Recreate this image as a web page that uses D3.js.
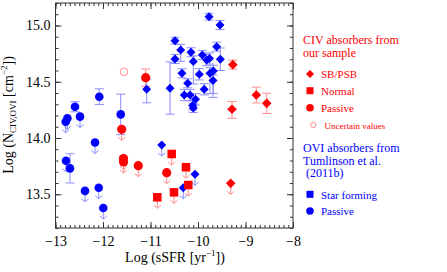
<!DOCTYPE html>
<html>
<head>
<meta charset="utf-8">
<script src="https://cdn.jsdelivr.net/npm/d3@7"></script>
<style>
  body { margin: 0; background: #fff; }
  svg text { font-family: "Liberation Serif", "Times New Roman", serif; }
</style>
</head>
<body>
<div class="chart"></div>
<script>
// OVI absorbers, Tumlinson et al. (2011b) - passive galaxies
var ovPassive = [
  {x: -12.785, y: 14.145, lim: true},
  {x: -12.75,  y: 14.175, lim: true},
  {x: -12.59,  y: 14.278, lo: 0.045, hi: 0.045},
  {x: -12.484, y: 14.19,  lim: true},
  {x: -12.078, y: 14.367, lo: 0.07, hi: 0.07},
  {x: -11.627, y: 14.21,  lo: 0.18, hi: 0.18},
  {x: -12.168, y: 13.96,  lim: true},
  {x: -12.779, y: 13.798, lim: true},
  {x: -12.695, y: 13.73,  lo: 0.13, hi: 0.13},
  {x: -12.379, y: 13.53,  lim: true},
  {x: -12.09,  y: 13.558, lim: true},
  {x: -11.994, y: 13.378, lim: true}
];

// OVI absorbers, Tumlinson et al. (2011b) - star forming galaxies
var ovStarForming = [
  {x: -9.768,  y: 15.078, lo: 0.03, hi: 0.03},
  {x: -9.537,  y: 15.004, lo: 0.04, hi: 0.04},
  {x: -10.484, y: 14.865, lo: 0.03, hi: 0.03},
  {x: -10.364, y: 14.782, lo: 0.1,  hi: 0.05},
  {x: -10.147, y: 14.762, lo: 0.04, hi: 0.04},
  {x: -10.484, y: 14.702, lo: 0.04, hi: 0.04},
  {x: -10.099, y: 14.68,  lo: 0.2,  hi: 0.05},
  {x: -9.909,  y: 14.738, lo: 0.04, hi: 0.04},
  {x: -9.817,  y: 14.693, lo: 0.05, hi: 0.05},
  {x: -9.758,  y: 14.707, lo: 0.05, hi: 0.05},
  {x: -9.606,  y: 14.812, lo: 0.04, hi: 0.04},
  {x: -9.53,   y: 14.7,   lo: 0.1,  hi: 0.1},
  {x: -10.337, y: 14.575, lo: 0.04, hi: 0.04},
  {x: -9.973,  y: 14.566, lo: 0.05, hi: 0.05},
  {x: -9.747,  y: 14.575, lo: 0.18, hi: 0.05},
  {x: -9.678,  y: 14.596, lo: 0.2,  hi: 0.05},
  {x: -10.217, y: 14.486, lo: 0.04, hi: 0.04},
  {x: -9.684,  y: 14.511, lo: 0.15, hi: 0.05},
  {x: -9.869,  y: 14.433, lo: 0.05, hi: 0.05},
  {x: -10.589, y: 14.442, lo: 0.23, hi: 0.234},
  {x: -11.08,  y: 14.433, lo: 0.12, hi: 0.09},
  {x: -10.288, y: 14.382, lo: 0.05, hi: 0.05},
  {x: -10.168, y: 14.382, lo: 0.05, hi: 0.05},
  {x: -10.053, y: 14.344, lo: 0.05, hi: 0.05},
  {x: -10.112, y: 14.289, lo: 0.04, hi: 0.04},
  {x: -10.099, y: 14.267, lo: 0.04, hi: 0.04},
  {x: -10.764, y: 13.938, lim: true},
  {x: -10.063, y: 13.677, lim: true},
  {x: -10.31,  y: 13.558, lim: true}
];

// CIV absorbers from our sample
var civStarburst = [
  {x: -9.267, y: 14.652, lo: 0.04, hi: 0.04},
  {x: -9.284, y: 14.255, lo: 0.08, hi: 0.07},
  {x: -8.773, y: 14.382, lo: 0.07, hi: 0.07},
  {x: -8.553, y: 14.308, lo: 0.09, hi: 0.09},
  {x: -9.312, y: 13.597, lim: true}
];
var civNormal = [
  {x: -10.554, y: 13.858, lim: true},
  {x: -10.253, y: 13.74,  lim: true},
  {x: -10.204, y: 13.582, lim: true},
  {x: -10.505, y: 13.517, lim: true},
  {x: -10.857, y: 13.473, lim: true}
];
var civPassive = [
  {x: -11.101, y: 14.536, lo: 0.077, hi: 0.077},
  {x: -11.606, y: 14.077, lim: true},
  {x: -11.568, y: 13.818, lim: true},
  {x: -11.568, y: 13.787, lim: true},
  {x: -11.257, y: 13.754, lim: true},
  {x: -10.659, y: 13.692, lim: true}
];
var civUncertain = [
  {x: -11.558, y: 14.589}
];

var xTicks = [-13, -12, -11, -10, -9, -8];
var yTicks = [13.5, 14.0, 14.5, 15.0];

var blue = '#0000ff', blueLight = '#8c8cff';
var red = '#ff0000', redLight = '#ff8c8c';
var serif = '"Liberation Serif", "Times New Roman", serif';

var svg = d3.select('div.chart').append('svg')
    .attr('width', 447)
    .attr('height', 272)
    .style('font-family', serif);

var x = d3.scaleLinear().domain([-13, -8]).range([55.5, 293]);
var y = d3.scaleLinear().domain([13.2, 15.2]).range([228, 3]);

// axes: ticks point inside on all four sides
function addAxis(axis, tx, ty) {
  var g = svg.append('g')
    .attr('transform', 'translate(' + tx + ',' + ty + ')')
    .call(axis)
    .attr('font-family', serif);
  g.select('.domain').remove();
  g.selectAll('line').attr('stroke', '#333');
  g.selectAll('text').attr('font-size', 14).attr('fill', '#000');
  return g;
}
var xMinor = d3.range(-13, -7.99, 0.1);
var yMinor = d3.range(13.2, 15.21, 0.1);

addAxis(d3.axisBottom(x).tickValues(xMinor).tickSize(-3).tickFormat(''), 0, 228);
addAxis(d3.axisBottom(x).tickValues(xTicks).tickSize(-6).tickPadding(8).tickFormat(d3.format('d')), 0, 228);
addAxis(d3.axisTop(x).tickValues(xMinor).tickSize(-3).tickFormat(''), 0, 3);
addAxis(d3.axisTop(x).tickValues(xTicks).tickSize(-6).tickFormat(''), 0, 3);
addAxis(d3.axisLeft(y).tickValues(yMinor).tickSize(-3).tickFormat(''), 55.5, 0);
addAxis(d3.axisLeft(y).tickValues(yTicks).tickSize(-6).tickPadding(5).tickFormat(d3.format('.1f')), 55.5, 0);
addAxis(d3.axisRight(y).tickValues(yMinor).tickSize(-3).tickFormat(''), 293, 0);
addAxis(d3.axisRight(y).tickValues(yTicks).tickSize(-6).tickFormat(''), 293, 0);

svg.append('rect')
  .attr('x', x(-13)).attr('y', y(15.2))
  .attr('width', x(-8) - x(-13)).attr('height', y(13.2) - y(15.2))
  .attr('fill', 'none').attr('stroke', '#333').attr('stroke-width', 1);

// axis titles
var xt = svg.append('text')
  .attr('x', 175).attr('y', 262)
  .attr('text-anchor', 'middle').attr('font-size', 14);
xt.append('tspan').text('Log (sSFR [yr');
xt.append('tspan').attr('font-size', 9).attr('dy', -6).text('−1');
xt.append('tspan').attr('dy', 6).text('])');

var yt = svg.append('text')
  .attr('transform', 'translate(13,115) rotate(-90)')
  .attr('text-anchor', 'middle').attr('font-size', 14);
yt.append('tspan').text('Log (N');
yt.append('tspan').attr('font-size', 9).attr('dy', 3).text('CIV,OVI');
yt.append('tspan').attr('dy', -3).text(' [cm');
yt.append('tspan').attr('font-size', 9).attr('dy', -6).text('−2');
yt.append('tspan').attr('dy', 6).text('])');

// error bars and upper limit arrows
var plot = svg.append('g');
function errorBars(data, color) {
  var d = data.filter(function (d) { return d.lo !== undefined; });
  var g = plot.append('g').attr('stroke', color).attr('stroke-width', 1).attr('fill', 'none');
  g.selectAll('path.err').data(d).enter().append('path')
    .attr('d', function (d) {
      var cx = x(d.x), y0 = y(d.y - d.lo), y1 = y(d.y + d.hi), w = 4.5;
      return 'M' + cx + ',' + y0 + 'V' + y1 +
        'M' + (cx - w) + ',' + y0 + 'H' + (cx + w) +
        'M' + (cx - w) + ',' + y1 + 'H' + (cx + w);
    });
  var l = data.filter(function (d) { return d.lim; });
  g.selectAll('path.lim').data(l).enter().append('path')
    .attr('d', function (d) {
      var cx = x(d.x), cy = y(d.y);
      return 'M' + cx + ',' + cy + 'V' + (cy + 11) +
        'M' + (cx - 3.5) + ',' + (cy + 8) + 'L' + cx + ',' + (cy + 11) + 'L' + (cx + 3.5) + ',' + (cy + 8);
    });
}
errorBars(ovPassive, blueLight);
errorBars(ovStarForming, blueLight);
errorBars(civStarburst, redLight);
errorBars(civNormal, redLight);
errorBars(civPassive, redLight);

function diamonds(data, color, h) {
  plot.append('g').selectAll('path').data(data).enter().append('path')
    .attr('d', function (d) {
      var cx = x(d.x), cy = y(d.y);
      return 'M' + cx + ',' + (cy - h) + 'L' + (cx + h) + ',' + cy +
        'L' + cx + ',' + (cy + h) + 'L' + (cx - h) + ',' + cy + 'Z';
    })
    .attr('fill', color);
}
function circles(data, color, r) {
  plot.append('g').selectAll('circle').data(data).enter().append('circle')
    .attr('cx', function (d) { return x(d.x); })
    .attr('cy', function (d) { return y(d.y); })
    .attr('r', r)
    .attr('fill', color);
}
function squares(data, color, s) {
  plot.append('g').selectAll('rect').data(data).enter().append('rect')
    .attr('x', function (d) { return x(d.x) - s / 2; })
    .attr('y', function (d) { return y(d.y) - s / 2; })
    .attr('width', s).attr('height', s)
    .attr('fill', color);
}

circles(ovPassive, blue, 4.3);
diamonds(ovStarForming, blue, 4.5);
diamonds(civStarburst, red, 4.8);
squares(civNormal, red, 8.5);
circles(civPassive, red, 4.6);
plot.append('g').selectAll('circle').data(civUncertain).enter().append('circle')
  .attr('cx', function (d) { return x(d.x); })
  .attr('cy', function (d) { return y(d.y); })
  .attr('r', 3.8)
  .attr('fill', 'none').attr('stroke', redLight).attr('stroke-width', 1);

// legend
var leg = svg.append('g');
function legText(tx, ty, str, color, size) {
  leg.append('text').attr('x', tx).attr('y', ty)
    .attr('font-size', size).attr('fill', color)
    .style('font-family', serif).text(str);
}
legText(303, 44, 'CIV absorbers from', red, 12);
legText(303, 57, 'our sample', red, 12);
leg.append('path').attr('d', 'M310,70L314,74L310,78L306,74Z').attr('fill', red);
legText(321, 78, 'SB/PSB', red, 11);
leg.append('rect').attr('x', 306.5).attr('y', 87.2).attr('width', 7).attr('height', 7).attr('fill', red);
legText(321, 95, 'Normal', red, 11);
leg.append('circle').attr('cx', 310).attr('cy', 107.7).attr('r', 3.8).attr('fill', red);
legText(321, 112, 'Passive', red, 11);
leg.append('circle').attr('cx', 313.3).attr('cy', 125).attr('r', 2.6)
  .attr('fill', 'none').attr('stroke', redLight);
legText(324.5, 128.5, 'Uncertain values', red, 9);

legText(303, 151.5, 'OVI absorbers from', blue, 12);
legText(303, 164.5, 'Tumlinson et al.', blue, 12);
legText(306, 177, '(2011b)', blue, 12);
leg.append('rect').attr('x', 306.5).attr('y', 190.8).attr('width', 7).attr('height', 7).attr('fill', blue);
legText(321, 198.5, 'Star forming', blue, 11);
leg.append('circle').attr('cx', 310).attr('cy', 211).attr('r', 3.8).attr('fill', blue);
legText(321, 215, 'Passive', blue, 11);
</script>
</body>
</html>
